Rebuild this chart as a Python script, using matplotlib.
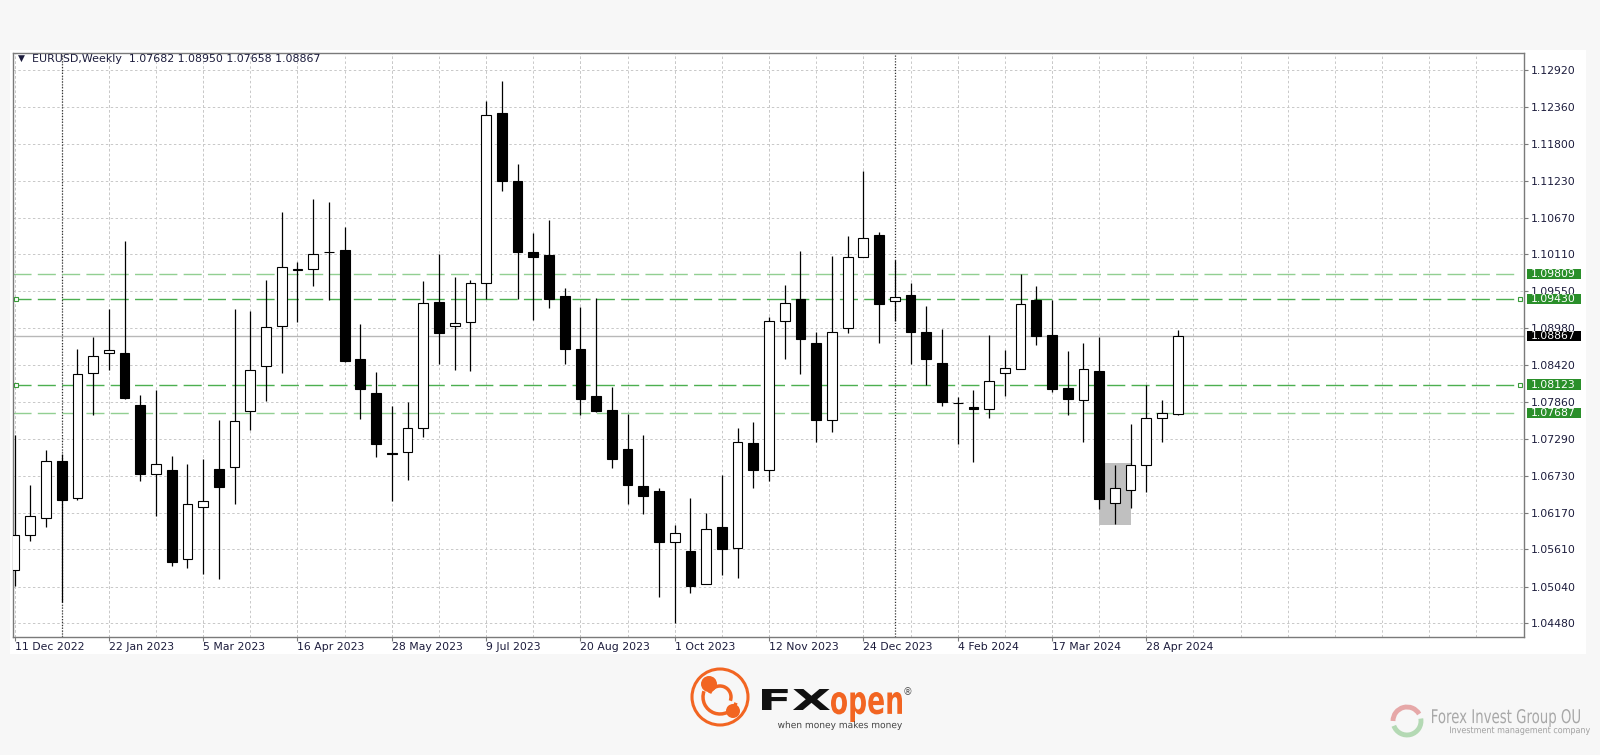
import numpy as np
import matplotlib
matplotlib.use("Agg")
import matplotlib.pyplot as plt
import matplotlib.transforms as mtransforms
from matplotlib.patches import Rectangle, Circle, Arc, PathPatch
from matplotlib.textpath import TextPath
from matplotlib.font_manager import FontProperties

# EURUSD mingguan, 11 Dec 2022 .. 12 May 2024
opens = [1.05297, 1.05828, 1.06084, 1.06954, 1.06394, 1.08297, 1.08600, 1.08606, 1.07818, 1.06762,
         1.06826, 1.05454, 1.06260, 1.06837, 1.06867, 1.07725, 1.08413, 1.09015, 1.09879, 1.09884,
         1.10147, 1.10182, 1.08519, 1.07999, 1.07083, 1.07094, 1.07462, 1.09388, 1.09020, 1.09079,
         1.09668, 1.12272, 1.11239, 1.10153, 1.10100, 1.09470, 1.08670, 1.07952, 1.07736, 1.07141,
         1.06575, 1.06499, 1.05717, 1.05582, 1.05081, 1.05944, 1.05635, 1.07229, 1.06826, 1.09096,
         1.09429, 1.08752, 1.07579, 1.08980, 1.10071, 1.10410, 1.09400, 1.09493, 1.08933, 1.08448,
         1.07847, 1.07777, 1.07748, 1.08308, 1.08361, 1.09412, 1.08886, 1.08069, 1.07882, 1.08338,
         1.06318, 1.06511, 1.06902, 1.07620, 1.07682]
highs = [1.07357, 1.06586, 1.07123, 1.07065, 1.08664, 1.08857, 1.09283, 1.10322, 1.07970, 1.08034,
         1.07036, 1.06907, 1.06995, 1.07585, 1.09283, 1.09248, 1.09721, 1.10754, 1.09995, 1.10953,
         1.10906, 1.10526, 1.09044, 1.08314, 1.07795, 1.07865, 1.09703, 1.10112, 1.09762, 1.09715,
         1.12447, 1.12756, 1.11495, 1.10445, 1.10643, 1.09604, 1.09301, 1.09447, 1.08081, 1.07678,
         1.07357, 1.06551, 1.05985, 1.06400, 1.06166, 1.06738, 1.07462, 1.07555, 1.09155, 1.09645,
         1.10170, 1.08933, 1.10089, 1.10398, 1.11384, 1.10451, 1.10024, 1.09674, 1.09324, 1.08968,
         1.07941, 1.08046, 1.08875, 1.08653, 1.09808, 1.09633, 1.09417, 1.08641, 1.08758, 1.08845,
         1.06902, 1.07520, 1.08116, 1.07894, 1.08950]
lows = [1.05052, 1.05734, 1.05956, 1.04800, 1.06365, 1.07660, 1.08349, 1.07911, 1.06656, 1.06114,
        1.05355, 1.05326, 1.05238, 1.05151, 1.06295, 1.07433, 1.07871, 1.08308, 1.09073, 1.09622,
        1.09412, 1.08466, 1.07596, 1.07013, 1.06347, 1.06668, 1.07322, 1.08431, 1.08349, 1.08338,
        1.09423, 1.11075, 1.09423, 1.09114, 1.09289, 1.08431, 1.07660, 1.07707, 1.06849, 1.06306,
        1.06143, 1.04876, 1.04479, 1.04946, 1.05075, 1.05221, 1.05168, 1.06551, 1.06645, 1.08519,
        1.08291, 1.07240, 1.07404, 1.08904, 1.10065, 1.08758, 1.09091, 1.08431, 1.08116, 1.07795,
        1.07223, 1.06948, 1.07608, 1.07952, 1.08355, 1.08729, 1.08011, 1.07666, 1.07240, 1.06219,
        1.06003, 1.06236, 1.06481, 1.07240, 1.07658]
closes = [1.05828, 1.06114, 1.06954, 1.06359, 1.08285, 1.08565, 1.08653, 1.07923, 1.06762, 1.06919,
          1.05419, 1.06295, 1.06341, 1.06557, 1.07561, 1.08343, 1.09009, 1.09919, 1.09885, 1.10124,
          1.10153, 1.08478, 1.08052, 1.07223, 1.07059, 1.07462, 1.09365, 1.08904, 1.09067, 1.09668,
          1.12237, 1.11239, 1.10141, 1.10065, 1.09423, 1.08670, 1.07900, 1.07713, 1.06995, 1.06586,
          1.06429, 1.05717, 1.05851, 1.05052, 1.05921, 1.05618, 1.07240, 1.06826, 1.09091, 1.09371,
          1.08822, 1.07579, 1.08933, 1.10065, 1.10363, 1.09359, 1.09464, 1.08933, 1.08519, 1.07853,
          1.07836, 1.07754, 1.08186, 1.08378, 1.09359, 1.08863, 1.08057, 1.07900, 1.08361, 1.06382,
          1.06540, 1.06902, 1.07608, 1.07690, 1.08867]

date_labels = ["11 Dec 2022", "22 Jan 2023", "5 Mar 2023", "16 Apr 2023", "28 May 2023",
               "9 Jul 2023", "20 Aug 2023", "1 Oct 2023", "12 Nov 2023", "24 Dec 2023",
               "4 Feb 2024", "17 Mar 2024", "28 Apr 2024"]
price_ticks = [1.04480, 1.05040, 1.05610, 1.06170, 1.06730, 1.07290, 1.07860, 1.08420,
               1.08980, 1.09550, 1.10110, 1.10670, 1.11230, 1.11800, 1.12360, 1.12920]
levels_bold = [1.09430, 1.08123]   # garis hijau dengan titik ujung
levels_soft = [1.09809, 1.07687]
last_price = closes[-1]
year_breaks = [3, 56]              # minggu pertama tiap tahun
zone_weeks = [69, 71]
zone_prices = [1.05985, 1.06920]

txt_col = "#1c1c3c"
green_box = "#2a8f2a"
fs = 7.8

fig = plt.figure(figsize=(16, 7.55), dpi=100, facecolor="#f7f7f7")
fig.add_artist(Rectangle((10 / 1600, 1 - 654 / 755), 1576 / 1600, 604 / 755,
                         transform=fig.transFigure, fc="white", ec="none", zorder=-1))

ax = fig.add_axes([13.3 / 1600, 1 - 637.3 / 755, 1510.7 / 1600, 584.6 / 755])
ax.set_xlim(-0.08, 96.03)
ax.set_ylim(1.04266, 1.13190)
ax.set_axisbelow(True)

x = np.arange(len(opens))
o = np.array(opens)
c = np.array(closes)
up = c >= o

# zona abu-abu
ax.add_patch(Rectangle((zone_weeks[0], zone_prices[0]), zone_weeks[1] - zone_weeks[0],
                       zone_prices[1] - zone_prices[0], fc="#c0c0c0", ec="none", zorder=1.8))

# garis level
ax.axhline(last_price, color="#b8b8b8", lw=1, zorder=1.6)
for lv in levels_soft:
    ax.axhline(lv, xmax=0.9963, color="#92cf92", lw=1, ls=(0, (13, 4.5)), zorder=1.7)
for lv in levels_bold:
    ax.axhline(lv, xmax=0.9963, color="#4caf50", lw=1, ls=(0, (13, 4.5)), zorder=1.7)
    ax.plot([0.1, 95.8], [lv, lv], ls="none", marker="s", ms=3.2, mfc="white",
            mec="#3a9a3a", mew=0.8, clip_on=False, zorder=5)

for b in year_breaks:
    ax.axvline(b, color="#333333", ls=(0, (1, 1.3)), lw=0.9, zorder=1.5)

# lilin
ax.vlines(x, lows, highs, color="black", lw=0.9, zorder=3)
ax.bar(x[up], (c - o)[up], bottom=o[up], width=0.62, color="white",
       edgecolor="black", lw=0.8, zorder=4)
ax.bar(x[~up], (o - c)[~up], bottom=c[~up], width=0.62, color="black",
       edgecolor="black", lw=0.8, zorder=4)

# sumbu
ax.yaxis.tick_right()
ax.set_yticks(price_ticks)
ax.set_yticklabels([f"{t:.5f}" for t in price_ticks])
ax.set_xticks(np.arange(0, len(opens), 6))
ax.set_xticklabels(date_labels, ha="left")
ax.set_xticks(np.arange(0, 97, 3), minor=True)
ax.xaxis.remove_overlapping_locs = False
ax.grid(axis="y", color="#c8c8c8", ls=(0, (2.5, 2.5)), lw=0.7)
ax.grid(axis="x", which="both", color="#c8c8c8", ls=(0, (2.5, 2.5)), lw=0.7)
ax.tick_params(axis="y", direction="out", length=3, width=0.8, pad=2,
               labelsize=fs, color="#7a7a7a", labelcolor=txt_col)
ax.tick_params(axis="x", which="major", direction="out", length=3, width=0.8, pad=0.5,
               labelsize=fs, color="#7a7a7a", labelcolor=txt_col)
ax.tick_params(axis="x", which="minor", length=0)
for s in ax.spines.values():
    s.set_color("#7a7a7a")
    s.set_linewidth(1)

# kotak harga di kanan
trans = mtransforms.blended_transform_factory(ax.transAxes, ax.transData)
for lv, col in [(levels_soft[0], green_box), (levels_bold[0], green_box),
                (last_price, "black"), (levels_bold[1], green_box), (levels_soft[1], green_box)]:
    ax.add_patch(Rectangle((1.0017, lv - 0.0008), 0.0357, 0.0016, transform=trans,
                           fc=col, ec="none", clip_on=False, zorder=6))
    ax.text(1.0017 + 0.0357 / 2, lv - 0.00003, f"{lv:.5f}", transform=trans, ha="center",
            va="center", color="white", fontsize=fs, zorder=7, clip_on=False)

# lapisan piksel untuk judul dan logo
lax = fig.add_axes([0, 0, 1, 1])
lax.set_xlim(0, 1600)
lax.set_ylim(755, 0)
lax.axis("off")
lax.patch.set_alpha(0)

lax.text(21.5, 58, "\u25bc", fontsize=6.5, ha="center", va="center", color=txt_col)
lax.text(32, 58.5, f"EURUSD,Weekly  {opens[-1]:.5f} {highs[-1]:.5f} {lows[-1]:.5f} {closes[-1]:.5f}",
         fontsize=7.9, ha="left", va="center", color=txt_col)


def text_box(s, x0, x1, y_top, y_bot, color, weight="normal"):
    tp = TextPath((0, 0), s, size=20, prop=FontProperties(family="DejaVu Sans", weight=weight))
    bb = tp.get_extents()
    tr = (mtransforms.Affine2D().translate(-bb.x0, -bb.y0)
          .scale((x1 - x0) / bb.width, -(y_bot - y_top) / bb.height)
          .translate(x0, y_bot))
    lax.add_patch(PathPatch(tr.transform_path(tp), fc=color, ec="none", lw=0))


orange = "#f26522"
lax.add_patch(Circle((720, 697), 28, fill=False, ec=orange, lw=2.2))
lax.add_patch(Circle((709, 684), 8, fc=orange, ec="none"))
lax.add_patch(Circle((733, 711), 7, fc=orange, ec="none"))
lax.add_patch(Arc((720, 697), 34, 34, theta1=20, theta2=200, ec=orange, lw=2.5))
lax.add_patch(Arc((720, 697), 22, 22, theta1=200, theta2=380, ec=orange, lw=2.5))
text_box("FX", 762, 830, 689, 710, "#111111", weight="bold")
text_box("open", 831, 902, 692, 722, orange, weight="bold")
text_box("when money makes money", 778, 902, 721, 730, "#444444")
lax.text(908, 692, "\u00ae", fontsize=7, color="#555555", ha="center", va="center")

lax.add_patch(Arc((1407, 721), 28, 28, theta1=180, theta2=330, ec="#e6a8a8", lw=3.5))
lax.add_patch(Arc((1407, 721), 28, 28, theta1=350, theta2=160, ec="#b4d9b4", lw=3.5))
text_box("Forex Invest Group OU", 1432, 1580, 709, 727, "#a8a8a8")
text_box("Investment management company", 1450, 1590, 726.5, 735, "#a0a0a0")

fig.savefig("out.png", dpi=100, facecolor=fig.get_facecolor())
